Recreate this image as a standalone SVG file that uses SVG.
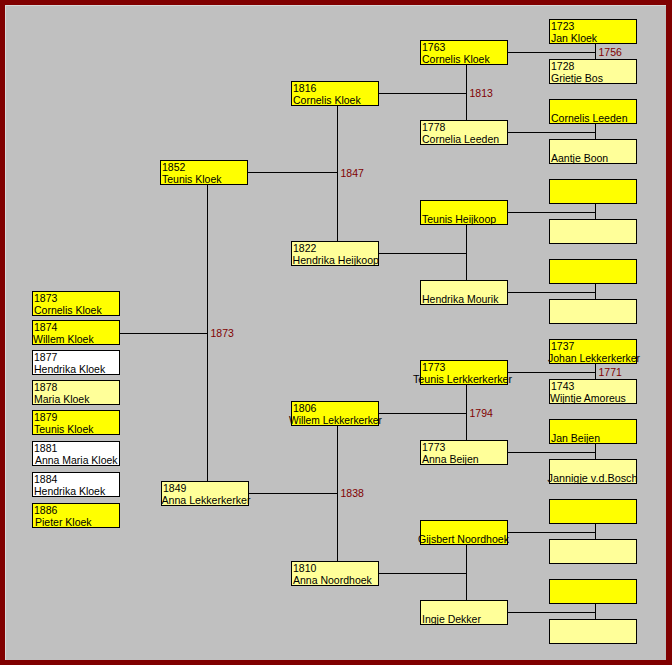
<svg xmlns="http://www.w3.org/2000/svg" width="672" height="665" viewBox="0 0 672 665">
<style>
rect.b{stroke:#000;stroke-width:1;shape-rendering:crispEdges}
.y{fill:#FFFF00}.l{fill:#FFFF99}.w{fill:#FFFFFF}
text{font-family:"Liberation Sans",Arial,sans-serif;font-size:10.5px;fill:#000}
text.m{fill:#800000}
#connectors path{stroke:#000;stroke-width:1;fill:none;shape-rendering:crispEdges}
</style>
<rect x="0" y="0" width="672" height="665" fill="#800000"/>
<rect x="5" y="5" width="661" height="655" fill="#C0C0C0"/>
<path d="M5.5 660V5.5H666" stroke="#D8D8D8" stroke-width="1" fill="none"/>

<g id="connectors">
<path d="M120 333.5H207.5M207.5 185V481M248 172.5H337.5M249 493.5H337.5M337.5 106V241M337.5 426V561"/>
<path d="M379 93.5H466.5M379 253.5H466.5M379 413.5H466.5M379 573.5H466.5M466.5 65V120M466.5 225V280M466.5 385V440M466.5 545V600"/>
<path d="M508 52.5H595.5M508 132.5H595.5M508 212.5H595.5M508 292.5H595.5M508 372.5H595.5M508 452.5H595.5M508 532.5H595.5M508 612.5H595.5"/>
<path d="M595.5 44V59M595.5 124V139M595.5 204V219M595.5 284V299M595.5 364V379M595.5 444V459M595.5 524V539M595.5 604V619"/>
<text class="m" x="598.5" y="56">1756</text>
<text class="m" x="469.5" y="97">1813</text>
<text class="m" x="340.5" y="176.5">1847</text>
<text class="m" x="210.5" y="337">1873</text>
<text class="m" x="340.5" y="497">1838</text>
<text class="m" x="469.5" y="417">1794</text>
<text class="m" x="598.5" y="376">1771</text>
</g>

<!-- children -->
<g id="c1873"><rect class="b y" x="32.5" y="291.5" width="87" height="24"/><text x="34" y="301.5">1873</text><text x="34" y="313.5">Cornelis Kloek</text></g>
<g id="c1874"><rect class="b y" x="32.5" y="320.5" width="87" height="24"/><text x="34" y="330.5">1874</text><text x="33" y="342.5">Willem Kloek</text></g>
<g id="c1877"><rect class="b w" x="32.5" y="350.5" width="87" height="24"/><text x="34" y="360.5">1877</text><text x="34" y="372.5">Hendrika Kloek</text></g>
<g id="c1878"><rect class="b l" x="32.5" y="380.5" width="87" height="24"/><text x="34" y="390.5">1878</text><text x="34" y="402.5">Maria Kloek</text></g>
<g id="c1879"><rect class="b y" x="32.5" y="410.5" width="87" height="24"/><text x="34" y="420.5">1879</text><text x="34" y="432.5">Teunis Kloek</text></g>
<g id="c1881"><rect class="b w" x="32.5" y="441.5" width="87" height="24"/><text x="34" y="451.5">1881</text><text x="35" y="463.5" textLength="82.5" lengthAdjust="spacingAndGlyphs">Anna Maria Kloek</text></g>
<g id="c1884"><rect class="b w" x="32.5" y="472.5" width="87" height="24"/><text x="34" y="482.5">1884</text><text x="34" y="494.5">Hendrika Kloek</text></g>
<g id="c1886"><rect class="b y" x="32.5" y="503.5" width="87" height="24"/><text x="34" y="513.5">1886</text><text x="35" y="525.5">Pieter Kloek</text></g>

<!-- generation 2 -->
<g id="p1852"><rect class="b y" x="160.5" y="160.5" width="87" height="24"/><text x="162" y="170.5">1852</text><text x="162" y="182.5">Teunis Kloek</text></g>
<g id="p1849"><rect class="b l" x="161.5" y="481.5" width="87" height="24"/><text x="163" y="491.5">1849</text><text x="206" y="503.5" text-anchor="middle" textLength="89" lengthAdjust="spacingAndGlyphs">Anna Lekkerkerker</text></g>

<!-- generation 3 -->
<g id="g1816"><rect class="b y" x="291.5" y="81.5" width="87" height="24"/><text x="293" y="91.5">1816</text><text x="293" y="103.5">Cornelis Kloek</text></g>
<g id="g1822"><rect class="b l" x="291.5" y="241.5" width="87" height="24"/><text x="293" y="251.5">1822</text><text x="292.5" y="263.5" textLength="86.5" lengthAdjust="spacingAndGlyphs">Hendrika Heijkoop</text></g>
<g id="g1806"><rect class="b y" x="291.5" y="401.5" width="87" height="24"/><text x="293" y="411.5">1806</text><text x="335.5" y="423.5" text-anchor="middle" textLength="93" lengthAdjust="spacingAndGlyphs">Willem Lekkerkerker</text></g>
<g id="g1810"><rect class="b l" x="291.5" y="561.5" width="87" height="24"/><text x="293" y="571.5">1810</text><text x="293" y="583.5">Anna Noordhoek</text></g>

<!-- generation 4 -->
<g id="h1763"><rect class="b y" x="420.5" y="40.5" width="87" height="24"/><text x="422" y="50.5">1763</text><text x="422" y="62.5">Cornelis Kloek</text></g>
<g id="h1778"><rect class="b l" x="420.5" y="120.5" width="87" height="24"/><text x="422" y="130.5">1778</text><text x="422" y="142.5">Cornelia Leeden</text></g>
<g id="hTH"><rect class="b y" x="420.5" y="200.5" width="87" height="24"/><text x="422" y="222.5">Teunis Heijkoop</text></g>
<g id="hHM"><rect class="b l" x="420.5" y="280.5" width="87" height="24"/><text x="422" y="302.5">Hendrika Mourik</text></g>
<g id="h1773a"><rect class="b y" x="420.5" y="360.5" width="87" height="24"/><text x="422" y="370.5">1773</text><text x="462.5" y="382.5" text-anchor="middle" textLength="99" lengthAdjust="spacingAndGlyphs">Teunis Lerkkerkerker</text></g>
<g id="h1773b"><rect class="b l" x="420.5" y="440.5" width="87" height="24"/><text x="422" y="450.5">1773</text><text x="422" y="462.5">Anna Beijen</text></g>
<g id="hGN"><rect class="b y" x="420.5" y="520.5" width="87" height="24"/><text x="463.5" y="542.5" text-anchor="middle" textLength="91" lengthAdjust="spacingAndGlyphs">Gijsbert Noordhoek</text></g>
<g id="hID"><rect class="b l" x="420.5" y="600.5" width="87" height="24"/><text x="422" y="622.5">Ingje Dekker</text></g>

<!-- generation 5 -->
<g id="k1723"><rect class="b y" x="549.5" y="19.5" width="87" height="24"/><text x="551" y="29.5">1723</text><text x="551" y="41.5">Jan Kloek</text></g>
<g id="k1728"><rect class="b l" x="549.5" y="59.5" width="87" height="24"/><text x="551" y="69.5">1728</text><text x="551" y="81.5">Grietje Bos</text></g>
<g id="kCL"><rect class="b y" x="549.5" y="99.5" width="87" height="24"/><text x="551" y="121.5">Cornelis Leeden</text></g>
<g id="kAB"><rect class="b l" x="549.5" y="139.5" width="87" height="24"/><text x="551" y="161.5">Aantje Boon</text></g>
<g id="k5"><rect class="b y" x="549.5" y="179.5" width="87" height="24"/></g>
<g id="k6"><rect class="b l" x="549.5" y="219.5" width="87" height="24"/></g>
<g id="k7"><rect class="b y" x="549.5" y="259.5" width="87" height="24"/></g>
<g id="k8"><rect class="b l" x="549.5" y="299.5" width="87" height="24"/></g>
<g id="k1737"><rect class="b y" x="549.5" y="339.5" width="87" height="24"/><text x="551" y="349.5">1737</text><text x="594" y="361.5" text-anchor="middle" textLength="92" lengthAdjust="spacingAndGlyphs">Johan Lekkerkerker</text></g>
<g id="k1743"><rect class="b l" x="549.5" y="379.5" width="87" height="24"/><text x="551" y="389.5">1743</text><text x="550" y="401.5">Wijntje Amoreus</text></g>
<g id="kJB"><rect class="b y" x="549.5" y="419.5" width="87" height="24"/><text x="551" y="441.5">Jan Beijen</text></g>
<g id="kJV"><rect class="b l" x="549.5" y="459.5" width="87" height="24"/><text x="592.5" y="481.5" text-anchor="middle" textLength="90" lengthAdjust="spacingAndGlyphs">Jannigje v.d.Bosch</text></g>
<g id="k13"><rect class="b y" x="549.5" y="499.5" width="87" height="24"/></g>
<g id="k14"><rect class="b l" x="549.5" y="539.5" width="87" height="24"/></g>
<g id="k15"><rect class="b y" x="549.5" y="579.5" width="87" height="24"/></g>
<g id="k16"><rect class="b l" x="549.5" y="619.5" width="87" height="24"/></g>
</svg>
